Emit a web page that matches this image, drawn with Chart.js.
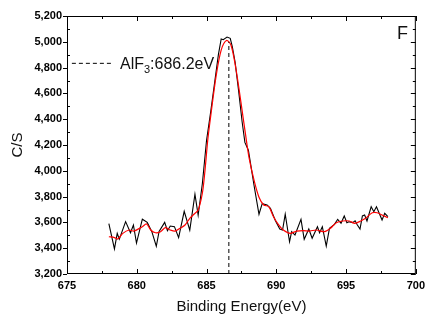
<!DOCTYPE html>
<html>
<head>
<meta charset="utf-8">
<script src="https://cdn.jsdelivr.net/npm/chart.js@4.4.1/dist/chart.umd.min.js"></script>
<style>
  html, body { margin: 0; padding: 0; background: #fff; }
  #wrap { width: 430px; height: 320px; }
</style>
</head>
<body>
<div id="wrap"><canvas id="xps" width="430" height="320"></canvas></div>
<script>
// F 1s spectrum - raw counts (black) and fitted envelope (red)
const rawEnergy = [678.0, 678.4, 678.6, 678.75, 679.2, 679.55, 679.76, 679.98, 680.4, 680.75,
  681.08, 681.4, 681.6, 682.0, 682.2, 682.4, 682.7, 683.0, 683.4, 683.8,
  684.17, 684.4, 684.7, 685.0, 685.3, 685.6, 685.85, 686.05, 686.2, 686.47,
  686.7, 686.85, 687.05, 687.3, 687.55, 687.75, 688.0, 688.15, 688.4, 688.76,
  688.99, 689.34, 689.58, 689.93, 690.25, 690.45, 690.64, 690.95, 691.1, 691.34,
  691.77, 692.0, 692.33, 692.57, 692.95, 693.1, 693.3, 693.58, 693.81, 694.17,
  694.4, 694.64, 694.87, 695.06, 695.2, 695.47, 695.65, 695.8, 696.0, 696.17,
  696.33, 696.5, 696.8, 696.99, 697.18, 697.58, 697.77, 698.0];
const rawCounts = [3590, 3395, 3515, 3470, 3606, 3520, 3580, 3440, 3625, 3600,
  3528, 3415, 3530, 3600, 3535, 3572, 3567, 3482, 3686, 3540,
  3818, 3657, 3900, 4235, 4460, 4700, 4900, 5022, 5016, 5037,
  5027, 4960, 4840, 4620, 4380, 4220, 4160, 4060, 3890, 3663,
  3745, 3735, 3709, 3615, 3548, 3541, 3663, 3450, 3528, 3502,
  3624, 3469, 3549, 3477, 3567, 3520, 3567, 3417, 3554, 3585,
  3624, 3593, 3650, 3598, 3605, 3598, 3613, 3582, 3549, 3650,
  3657, 3611, 3722, 3683, 3722, 3619, 3670, 3644];

const fitEnergy = [678.0, 678.4, 678.63, 679.0, 679.46, 679.8, 680.4, 680.7, 681.0, 681.34,
  681.7, 682.05, 682.4, 682.75, 683.1, 683.46, 683.8, 684.1, 684.4, 684.7,
  684.87, 685.1, 685.34, 685.7, 686.05, 686.43, 686.75, 687.1, 687.46, 687.8,
  688.05, 688.4, 688.76, 689.1, 689.46, 689.8, 690.17, 690.5, 691.0, 691.46,
  691.94, 692.4, 692.87, 693.46, 693.88, 694.3, 694.76, 695.23, 695.63, 696.05,
  696.4, 696.88, 697.23, 697.58, 698.0];
const fitCounts = [3489, 3482, 3471, 3515, 3541, 3533, 3567, 3588, 3541, 3520,
  3528, 3559, 3541, 3533, 3554, 3580, 3632, 3663, 3696, 3826,
  3981, 4250, 4458, 4743, 4936, 5010, 4975, 4795, 4536, 4278,
  4100, 3929, 3795, 3735, 3722, 3644, 3580, 3541, 3515, 3533,
  3536, 3533, 3541, 3528, 3554, 3598, 3611, 3611, 3593, 3611,
  3632, 3675, 3675, 3657, 3636];

// reference marker: AlF3 peak
const peakLineX = [686.6, 686.6];
const peakLineY = [3200, 5000];
const labelLineX = [675.35, 678.25];
const labelLineY = [4833, 4833];

const xTicks = [675, 680, 685, 690, 695, 700];
const yTicks = [3200, 3400, 3600, 3800, 4000, 4200, 4400, 4600, 4800, 5000, 5200];

const FONT = 'Arial, "Liberation Sans", sans-serif';

function _pts(xs, ys) { return xs.map((x, i) => ({ x, y: ys[i] })); }

// frame, inward ticks, annotation text
const frameTicks = {
  id: 'frameTicks',
  afterDatasetsDraw(chart) {
    const { ctx, chartArea: a, scales: { x, y } } = chart;
    ctx.save();
    ctx.strokeStyle = '#000';
    ctx.lineWidth = 1;
    ctx.strokeRect(a.left + 0.5, a.top + 0.5, a.right - a.left - 1, a.bottom - a.top - 1);
    ctx.beginPath();
    for (let v = xTicks[0]; v <= xTicks[xTicks.length - 1] + 0.01; v += 2.5) {
      const px = Math.round(x.getPixelForValue(v)) + 0.5;
      const len = (v % 5 === 0) ? 5 : 3;
      ctx.moveTo(px, a.bottom); ctx.lineTo(px, a.bottom - len);
      ctx.moveTo(px, a.top); ctx.lineTo(px, a.top + len);
    }
    for (let v = yTicks[0]; v <= yTicks[yTicks.length - 1]; v += 100) {
      const py = Math.round(y.getPixelForValue(v)) + 0.5;
      const major = v % 200 === 0;
      if (major) { ctx.moveTo(a.left, py); ctx.lineTo(a.left - 4, py); }
      else { ctx.moveTo(a.left, py); ctx.lineTo(a.left + 3, py); }
      ctx.moveTo(a.right, py); ctx.lineTo(a.right - (major ? 5 : 3), py);
    }
    ctx.stroke();

    ctx.fillStyle = '#111';
    ctx.textBaseline = 'alphabetic';
    ctx.textAlign = 'left';
    let tx = 120, ty = 69;
    ctx.font = '16px ' + FONT;
    ctx.fillText('AlF', tx, ty);
    tx += ctx.measureText('AlF').width;
    ctx.font = '11px ' + FONT;
    ctx.fillText('3', tx, ty + 4);
    tx += ctx.measureText('3').width;
    ctx.font = '16px ' + FONT;
    ctx.fillText(':686.2eV', tx, ty);

    ctx.font = '18px ' + FONT;
    ctx.fillText('F', 397, 39);
    ctx.restore();
  }
};

new Chart(document.getElementById('xps').getContext('2d'), {
  type: 'scatter',
  data: {
    datasets: [
      { data: _pts(fitEnergy, fitCounts), showLine: true, borderColor: '#ff0000', borderWidth: 1.2,
        pointRadius: 0, tension: 0.3, order: 1 },
      { data: _pts(rawEnergy, rawCounts), showLine: true, borderColor: '#000', borderWidth: 1.1,
        pointRadius: 0, tension: 0, order: 2 },
      { data: _pts(peakLineX, peakLineY), showLine: true, borderColor: '#000', borderWidth: 1,
        borderDash: [4, 3], pointRadius: 0, order: 0 },
      { data: _pts(labelLineX, labelLineY), showLine: true, borderColor: '#000', borderWidth: 1,
        borderDash: [4, 3], pointRadius: 0, order: 0 }
    ]
  },
  options: {
    responsive: false,
    animation: false,
    devicePixelRatio: 1,
    layout: { padding: { left: 0, right: 9, top: 16, bottom: 0 } },
    plugins: { legend: { display: false }, tooltip: { enabled: false } },
    scales: {
      x: {
        type: 'linear', min: 675, max: 700,
        afterFit: s => { s.height = 46; },
        afterBuildTicks: s => { s.ticks = xTicks.map(v => ({ value: v })); },
        grid: { display: false, drawTicks: false },
        border: { display: false },
        ticks: { color: '#000', padding: 5, maxRotation: 0, font: { family: FONT, size: 11, weight: 'bold' } },
        title: { display: true, text: 'Binding Energy(eV)', color: '#111',
          font: { family: FONT, size: 15 }, padding: { top: 0, bottom: 4 } }
      },
      y: {
        type: 'linear', min: 3200, max: 5200,
        afterFit: s => { s.width = 67; },
        afterBuildTicks: s => { s.ticks = yTicks.map(v => ({ value: v })); },
        grid: { display: false, drawTicks: false },
        border: { display: false },
        ticks: { color: '#000', padding: 5, font: { family: FONT, size: 11, weight: 'bold' },
          callback: v => v.toLocaleString('en-US') },
        title: { display: true, text: 'C/S', color: '#111',
          font: { family: FONT, size: 15 }, padding: { top: 9, bottom: 0 } }
      }
    }
  },
  plugins: [frameTicks]
});
</script>
</body>
</html>
